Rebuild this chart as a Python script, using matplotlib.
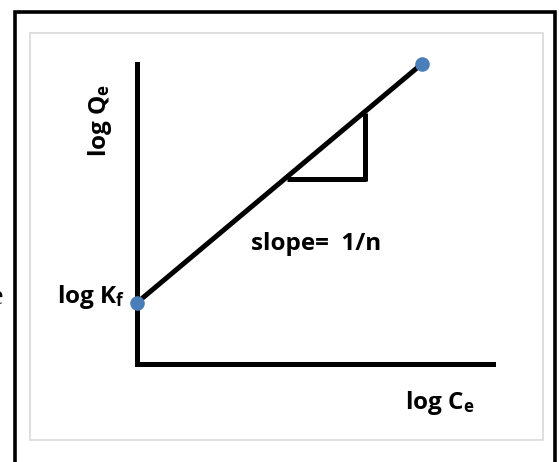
import matplotlib
matplotlib.use("Agg")
import matplotlib.pyplot as plt
from matplotlib.patches import Rectangle

plt.rcParams['font.family'] = ['Open Sans', 'DejaVu Sans']
plt.rcParams['mathtext.fontset'] = 'custom'
plt.rcParams['mathtext.rm'] = 'Open Sans:bold'
plt.rcParams['mathtext.bf'] = 'Open Sans:bold'
plt.rcParams['mathtext.default'] = 'rm'

# Data (arbitrary units: log Ce on x, log Qe on y)
line_x = [0.0, 0.80]
line_y = [0.203, 1.0]
tri_x = [0.422, 0.645, 0.640]
tri_y = [0.617, 0.617, 0.837]

W, H = 559, 462
fig = plt.figure(figsize=(W / 100, H / 100), dpi=100)

def fx(px):
    return px / W

def fy(py):
    return 1 - py / H

# Outer black frame and inner gray frame
fig.patches.append(Rectangle((fx(14.5), fy(470)), fx(554.5) - fx(14.5), fy(11.5) - fy(470),
                             transform=fig.transFigure, fill=False, edgecolor='black',
                             linewidth=2.6, zorder=0))
fig.patches.append(Rectangle((fx(29.5), fy(440)), fx(543) - fx(29.5), fy(33) - fy(440),
                             transform=fig.transFigure, fill=False, edgecolor='#D9D9D9',
                             linewidth=1.2, zorder=0))

ax = fig.add_axes([fx(136.5), fy(364), fx(493) - fx(136.5), fy(64) - fy(364)])
ax.set_xlim(0, 1)
ax.set_ylim(0, 1)
ax.patch.set_alpha(0)
for s in ['top', 'right']:
    ax.spines[s].set_visible(False)
for s in ['left', 'bottom']:
    ax.spines[s].set_linewidth(3.6)
    ax.spines[s].set_color('black')
    ax.spines[s].set_capstyle('projecting')
ax.set_xticks([])
ax.set_yticks([])

ax.plot(line_x, line_y, color='black', linewidth=3.6, solid_capstyle='butt', clip_on=False, zorder=3)
ax.plot([tri_x[0], tri_x[1]], [tri_y[0], tri_y[1]], color='black', linewidth=3.6,
        solid_capstyle='butt', clip_on=False, zorder=3)
ax.plot([tri_x[2], tri_x[2]], [tri_y[0] - 0.008, tri_y[2]], color='black', linewidth=3.6,
        solid_capstyle='butt', clip_on=False, zorder=3)
ax.scatter(line_x, line_y, s=110, color='#4A7EBB', zorder=4, clip_on=False, linewidths=0)

tk = dict(fontsize=17.5, fontweight='bold', color='black')
fig.text(fx(251), fy(244), 'slope=  1/n', ha='left', va='center', **tk)
fig.text(fx(125), fy(297), r'log K$_{f}$', ha='right', va='center', **tk)
fig.text(fx(405), fy(403), r'log C$_{e}$', ha='left', va='center', **tk)
fig.text(fx(100), fy(120), r'log Q$_{e}$', ha='center', va='center', rotation=90, **tk)
fig.text(fx(-9), fy(297), 'e', ha='left', va='center', fontsize=20, color='black',
         family=['Liberation Serif'])

fig.savefig('out.png', dpi=100)
